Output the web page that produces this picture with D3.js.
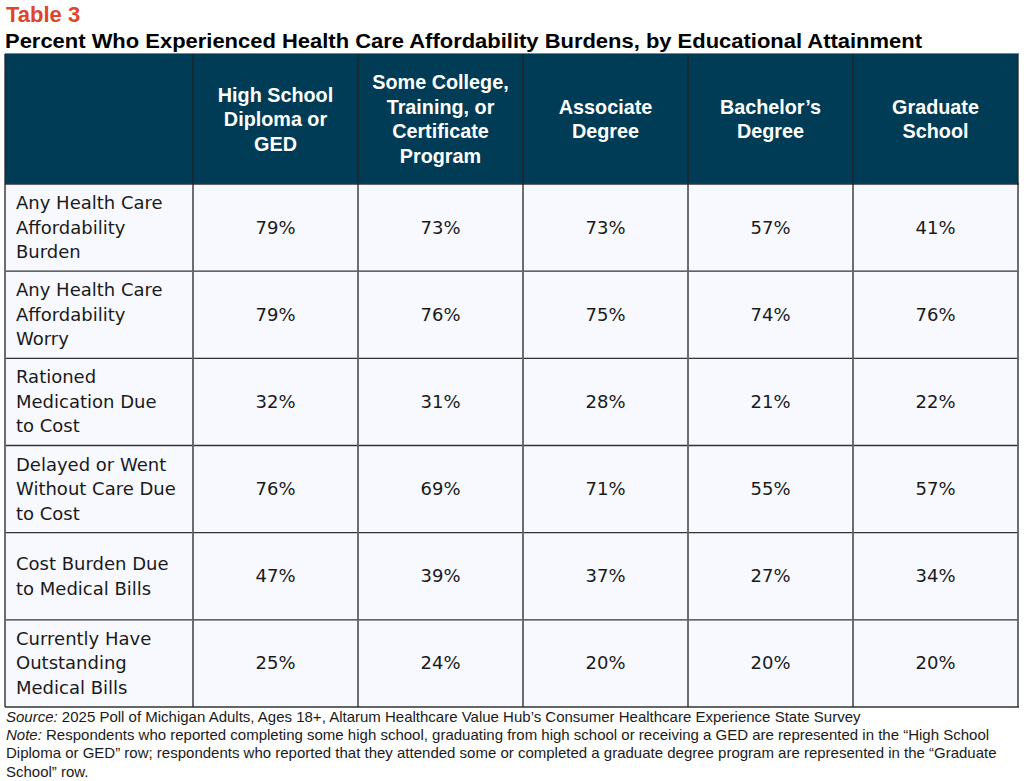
<!DOCTYPE html>
<html>
<head>
<meta charset="utf-8">
<script src="https://cdn.jsdelivr.net/npm/d3@7"></script>
<style>
  body { margin: 0; background: #fff; }
  svg { display: block; }
</style>
</head>
<body>
<svg id="chart" width="1024" height="781"></svg>
<script>
// column headers (education levels)
var categories = [
  'High School\nDiploma or\nGED',
  'Some College,\nTraining, or\nCertificate\nProgram',
  'Associate\nDegree',
  'Bachelor\u2019s\nDegree',
  'Graduate\nSchool'
];

// row labels (measures)
var measures = [
  'Any Health Care\nAffordability\nBurden',
  'Any Health Care\nAffordability\nWorry',
  'Rationed\nMedication Due\nto Cost',
  'Delayed or Went\nWithout Care Due\nto Cost',
  'Cost Burden Due\nto Medical Bills',
  'Currently Have\nOutstanding\nMedical Bills'
];

// percent values, one array per column
var highSchool = [79, 79, 32, 76, 47, 25];
var someCollege = [73, 76, 31, 69, 39, 24];
var associate = [73, 75, 28, 71, 37, 20];
var bachelors = [57, 74, 21, 55, 27, 20];
var graduate = [41, 76, 22, 57, 34, 20];
var series = [highSchool, someCollege, associate, bachelors, graduate];

var titleText = 'Table 3';
var subtitleText = 'Percent Who Experienced Health Care Affordability Burdens, by Educational Attainment';
var sourceText = ' 2025 Poll of Michigan Adults, Ages 18+, Altarum Healthcare Value Hub\u2019s Consumer Healthcare Experience State Survey';
var noteLines = [
  ' Respondents who reported completing some high school, graduating from high school or receiving a GED are represented in the \u201cHigh School',
  'Diploma or GED\u201d row; respondents who reported that they attended some or completed a graduate degree program are represented in the \u201cGraduate',
  'School\u201d row.'
];

var svg = d3.select('#chart');

var left = 5, right = 1018, labelRight = 193;
var headTop = 54, headBottom = 184, bodyBottom = 707;
var lineH = 24.5;

var x = d3.scaleBand().domain(d3.range(categories.length)).range([labelRight, right]);
var y = d3.scaleBand().domain(d3.range(measures.length)).range([headBottom, bodyBottom]);

var headFont = '"Liberation Sans Narrow", "Liberation Sans", sans-serif';
var bodyFont = '"DejaVu Sans", Verdana, sans-serif';

// titles
svg.append('text')
  .attr('x', left + 1).attr('y', 22)
  .style('font-family', '"Liberation Sans", Arial, sans-serif')
  .style('font-weight', 'bold').style('font-size', '22px')
  .style('fill', '#e0442b')
  .text(titleText);

svg.append('text')
  .attr('x', left).attr('y', 48)
  .style('font-family', '"Liberation Sans", Arial, sans-serif')
  .style('font-weight', 'bold').style('font-size', '20px')
  .style('fill', '#000')
  .attr('textLength', 917).attr('lengthAdjust', 'spacingAndGlyphs')
  .text(subtitleText);

// header band
svg.append('rect')
  .attr('x', left).attr('y', headTop)
  .attr('width', right - left).attr('height', headBottom - headTop)
  .style('fill', '#013c56');
svg.append('line')
  .attr('x1', left).attr('x2', right + 1).attr('y1', headTop - 0.5).attr('y2', headTop - 0.5)
  .style('stroke', '#5aa145').style('stroke-width', 1);

// body background
svg.append('rect')
  .attr('x', left).attr('y', headBottom)
  .attr('width', right - left).attr('height', bodyBottom - headBottom)
  .style('fill', '#f7f9ff');

// header labels
var heads = svg.selectAll('.head').data(categories).enter().append('text')
  .attr('class', 'head')
  .attr('text-anchor', 'middle')
  .style('font-family', headFont).style('font-weight', 'bold')
  .style('font-size', '19.8px').style('fill', '#fff');

heads.each(function(d, i) {
  var lines = d.split('\n');
  var cx = x(i) + x.bandwidth() / 2;
  var cy = (headTop + headBottom) / 2;
  var first = cy - (lines.length - 1) * lineH / 2 + 7;
  d3.select(this).selectAll('tspan').data(lines).enter().append('tspan')
    .attr('x', cx)
    .attr('y', function(l, k) { return first + k * lineH; })
    .text(function(l) { return l; });
});

// row labels
var labels = svg.selectAll('.rowlabel').data(measures).enter().append('text')
  .attr('class', 'rowlabel')
  .style('font-family', bodyFont).style('font-size', '18px').style('fill', '#1a1a1a');

labels.each(function(d, i) {
  var lines = d.split('\n');
  var cy = y(i) + y.bandwidth() / 2;
  var first = cy - (lines.length - 1) * lineH / 2 + 6;
  d3.select(this).selectAll('tspan').data(lines).enter().append('tspan')
    .attr('x', 16)
    .attr('y', function(l, k) { return first + k * lineH; })
    .text(function(l) { return l; });
});

// values
series.forEach(function(col, ci) {
  svg.selectAll('.v' + ci).data(col).enter().append('text')
    .attr('class', 'v' + ci)
    .attr('text-anchor', 'middle')
    .attr('x', x(ci) + x.bandwidth() / 2)
    .attr('y', function(d, ri) { return y(ri) + y.bandwidth() / 2 + 6; })
    .style('font-family', bodyFont).style('font-size', '18px').style('fill', '#1a1a1a')
    .text(function(d) { return d + '%'; });
});

// horizontal rules
svg.selectAll('.hrule').data(d3.range(measures.length + 1)).enter().append('line')
  .attr('class', 'hrule')
  .attr('x1', left).attr('x2', right + 1)
  .attr('y1', function(d) { return d < measures.length ? y(d) : bodyBottom; })
  .attr('y2', function(d) { return d < measures.length ? y(d) : bodyBottom; })
  .style('stroke', '#333').style('stroke-width', 1.3);

// vertical rules
var vx = [left].concat(d3.range(categories.length).map(function(i) { return x(i); })).concat([right]);
svg.selectAll('.vrule').data(vx).enter().append('line')
  .attr('class', 'vrule')
  .attr('x1', function(d) { return d; }).attr('x2', function(d) { return d; })
  .attr('y1', headTop).attr('y2', bodyBottom)
  .style('stroke', '#222')
  .style('stroke-width', 1.3);
// lighter segments in the body
svg.selectAll('.vbody').data(vx).enter().append('line')
  .attr('class', 'vbody')
  .attr('x1', function(d) { return d; }).attr('x2', function(d) { return d; })
  .attr('y1', headBottom + 1).attr('y2', bodyBottom - 1)
  .style('stroke', '#6e6e6e').style('stroke-width', 1.6);

// footnotes
var footFont = '"Liberation Sans Narrow", "Liberation Sans", sans-serif';
var src = svg.append('text').attr('x', left + 1).attr('y', 722)
  .style('font-family', footFont).style('font-size', '15px').style('fill', '#1a1a1a');
src.append('tspan').style('font-style', 'italic').text('Source:');
src.append('tspan').text(sourceText);

noteLines.forEach(function(l, i) {
  var t = svg.append('text').attr('x', left + 1).attr('y', 740 + i * 18.3)
    .style('font-family', footFont).style('font-size', '15px').style('fill', '#1a1a1a');
  if (i === 0) t.append('tspan').style('font-style', 'italic').text('Note:');
  t.append('tspan').text(l);
});
</script>
</body>
</html>
